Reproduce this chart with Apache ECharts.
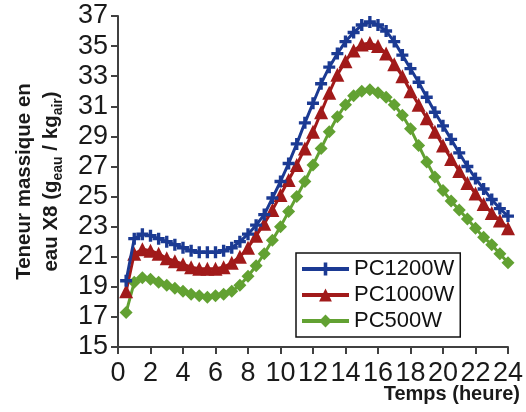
<!DOCTYPE html>
<html>
<head>
<meta charset="utf-8">
<script src="https://cdn.jsdelivr.net/npm/echarts@6/dist/echarts.min.js"></script>
<style>html,body{margin:0;padding:0;background:#fff;}#c{width:526px;height:412px;}</style>
</head>
<body>
<div id="c"></div>
<script>
const hours = [0.5,1,1.5,2,2.5,3,3.5,4,4.5,5,5.5,6,6.5,7,7.5,8,8.5,9,9.5,10,10.5,11,11.5,12,12.5,13,13.5,14,14.5,15,15.5,16,16.5,17,17.5,18,18.5,19,19.5,20,20.5,21,21.5,22,22.5,23,23.5,24];
const pc1200 = [19.4,22.2,22.5,22.4,22.2,22.0,21.8,21.6,21.4,21.3,21.3,21.3,21.4,21.6,22.0,22.5,23.1,23.8,24.9,26.0,27.2,28.5,29.9,31.2,32.5,33.6,34.5,35.3,35.9,36.4,36.6,36.4,36.0,35.3,34.4,33.5,32.6,31.6,30.6,29.7,28.8,27.9,27.0,26.2,25.5,24.8,24.2,23.7];
const pc1000 = [18.7,21.2,21.5,21.4,21.2,20.9,20.7,20.5,20.3,20.2,20.2,20.2,20.3,20.6,21.0,21.6,22.4,23.2,24.1,25.1,26.1,27.1,28.2,29.3,30.6,31.9,33.1,34.0,34.7,35.1,35.2,35.0,34.5,33.8,33.0,32.0,31.1,30.2,29.3,28.4,27.5,26.7,25.9,25.2,24.5,23.9,23.4,22.9];
const pc500 = [17.3,19.3,19.6,19.5,19.3,19.1,18.9,18.7,18.5,18.4,18.3,18.4,18.5,18.7,19.1,19.7,20.4,21.2,22.1,23.0,24.0,25.0,26.0,27.1,28.2,29.3,30.3,31.1,31.7,32.0,32.1,31.9,31.6,31.1,30.4,29.5,28.4,27.3,26.3,25.4,24.7,24.1,23.5,22.9,22.3,21.8,21.2,20.6];
const seriesNames = ['PC1200W','PC1000W','PC500W'];
const xTitle = 'Temps (heure)';

const F = '"Liberation Sans", Arial, sans-serif';
const colBlue = '#1b3a93', colRed = '#a11a1a', colGreen = '#62a132';
const cross = 'path://M3.6,0H6.4V3.6H10V6.4H6.4V10H3.6V6.4H0V3.6H3.6Z';
function pairs(v){ return hours.map((h,i)=>[h, v[i]]); }

const chart = echarts.init(document.getElementById('c'), null, {renderer:'canvas'});
chart.setOption({
  animation:false,
  backgroundColor:'#fff',
  grid:{left:118, right:17, top:16, bottom:65, containLabel:false},
  xAxis:{type:'value', min:0, max:24, interval:2,
    axisLine:{lineStyle:{color:'#404040', width:2}},
    axisTick:{show:true, length:7, lineStyle:{color:'#404040', width:2}},
    axisLabel:{fontFamily:F, fontSize:27, color:'#1a1a1a', margin:13},
    splitLine:{show:false}},
  yAxis:{type:'value', min:15, max:37, interval:2,
    axisLine:{show:true, lineStyle:{color:'#404040', width:2}},
    axisTick:{show:true, length:7, lineStyle:{color:'#404040', width:2}},
    axisLabel:{fontFamily:F, fontSize:27, color:'#1a1a1a', margin:10},
    splitLine:{show:false},
    name:'{a|Teneur massique en}\n{a|eau X8 (g}{s|eau}{a| / kg}{s|air}{a|)}',
    nameLocation:'middle', nameGap:53,
    nameTextStyle:{rich:{
      a:{fontFamily:F, fontSize:20.5, fontWeight:'bold', color:'#1a1a1a', lineHeight:27, verticalAlign:'middle'},
      s:{fontFamily:F, fontSize:14, fontWeight:'bold', color:'#1a1a1a', lineHeight:14, verticalAlign:'bottom'}
    }}},
  legend:{orient:'vertical', left:296, top:253, data:seriesNames,
    backgroundColor:'#fff', borderColor:'#111', borderWidth:1.5, borderRadius:0,
    padding:[4,6,4,4], itemGap:2, itemWidth:47, itemHeight:16,
    lineStyle:{width:4},
    textStyle:{fontFamily:F, fontSize:22, color:'#111', lineHeight:24}},
  graphic:[{type:'text', right:6, top:384, style:{text:xTitle, font:'bold 20px "Liberation Sans", Arial, sans-serif', fill:'#1a1a1a'}}],
  series:[
    {name:seriesNames[0], type:'line', data:pairs(pc1200), symbol:cross, symbolSize:12,
      lineStyle:{color:colBlue, width:3}, itemStyle:{color:colBlue}, z:3},
    {name:seriesNames[1], type:'line', data:pairs(pc1000), symbol:'triangle', symbolSize:14,
      lineStyle:{color:colRed, width:3}, itemStyle:{color:colRed}, z:2},
    {name:seriesNames[2], type:'line', data:pairs(pc500), symbol:'diamond', symbolSize:13,
      lineStyle:{color:colGreen, width:3}, itemStyle:{color:colGreen}, z:1}
  ]
});
</script>
</body>
</html>
